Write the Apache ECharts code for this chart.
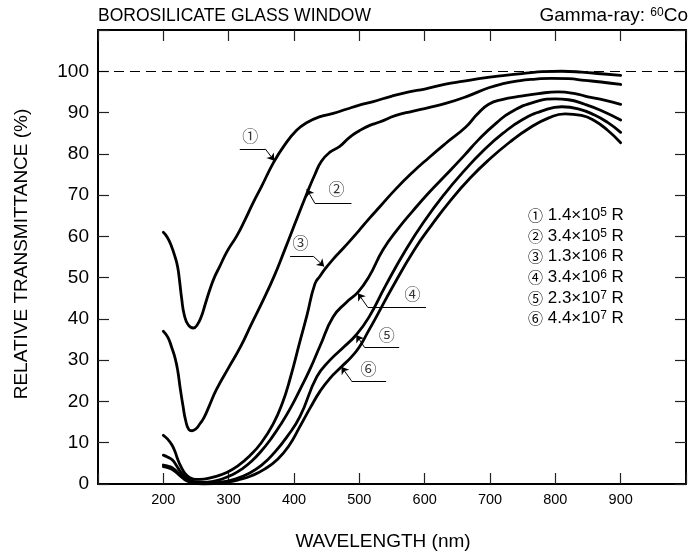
<!DOCTYPE html>
<html><head><meta charset="utf-8">
<script src="https://cdn.jsdelivr.net/npm/echarts@6/dist/echarts.min.js"></script>
<style>html,body{margin:0;padding:0;background:#fff}#c{width:689px;height:558px}</style>
</head><body><div id="c"></div>
<script>
// ---------- data ----------
const xLabelTicks = [200, 300, 400, 500, 600, 700, 800, 900];
const yLabelTicks = [0, 10, 20, 30, 40, 50, 60, 70, 80, 90, 100];

const curve1 = [[200,61],[206,59.8],[212,57.8],[218,55],[222,52.5],[225,49],[228,45],[232,41],[238,38.6],[246,37.8],[252,38.6],[258,40.5],[264,43.5],[271,47],[278,50],[286,52.6],[298,56.5],[312,60],[325,64],[337,68],[350,72],[369,78],[385,82],[404,85.7],[420,87.6],[440,89],[460,89.8],[480,90.8],[500,91.8],[520,92.6],[550,94],[576,95],[600,95.7],[632,96.9],[660,97.6],[683,98.2],[723,99],[759,99.6],[780,99.9],[810,100],[840,99.8],[870,99.4],[900,99]];
const curve2 = [[200,37],[207,35.5],[213,33],[218,30.5],[222,27.5],[226,23],[230,19],[234,15.5],[239,13.2],[244,12.9],[250,13.4],[256,14.6],[262,16],[270,18.8],[281,22.8],[300,28.2],[318,33.2],[335,38.8],[353,44.6],[370,50.5],[384,56],[400,62.5],[420,70.5],[432,75],[442,78.2],[455,80.4],[470,81.8],[485,84],[500,85.6],[516,86.9],[531,87.7],[556,89.3],[581,90.3],[606,91.2],[632,92.2],[663,93.8],[698,96],[720,97],[744,97.7],[770,98.1],[794,98.3],[820,98.2],[845,97.8],[870,97.4],[900,96.8]];
const curve3 = [[200,11.8],[207,10.8],[213,9.5],[218,7.8],[222,6],[227,4.2],[233,2.6],[240,1.6],[250,1.1],[262,1.2],[275,1.6],[297,2.8],[315,4.5],[332,6.8],[350,10],[368,14.5],[382,19.5],[394,25.5],[409,34.5],[420,41],[432,48.5],[440,50.4],[447,52],[460,54.5],[470,56.2],[485,58.8],[500,61.5],[515,64.3],[531,67.1],[556,71.5],[582,75.6],[606,79],[632,82.5],[663,86.5],[680,89.5],[698,92],[720,93.2],[744,93.9],[774,94.6],[804,95],[830,94.6],[850,93.8],[875,93],[900,92]];
const curve4 = [[200,7],[207,6.5],[214,5.8],[220,4.5],[226,3],[233,1.8],[240,1],[250,0.5],[262,0.4],[275,0.6],[290,1.2],[305,2.2],[320,3.6],[335,5.5],[350,8],[365,11],[380,14.5],[395,18.5],[409,22.8],[425,28],[440,33.5],[460,40.5],[480,44],[498,46.5],[515,50.3],[536,56.7],[560,62],[581,66],[606,70.5],[632,74.8],[660,79.5],[683,83.5],[710,87.5],[733,90.2],[769,92.6],[800,93.3],[820,93.1],[845,92],[870,90.5],[900,88.2]];
const curve5 = [[200,4.6],[208,4.3],[215,3.8],[222,2.8],[230,1.6],[238,0.8],[248,0.3],[260,0.1],[275,0.2],[290,0.5],[310,1.2],[330,2.5],[350,4.5],[370,7.6],[390,11.6],[409,16.3],[435,26],[455,30],[475,33],[495,36.1],[515,40.5],[540,48],[571,56.7],[600,63.8],[630,70.2],[660,75.8],[690,80.8],[720,85],[750,88.3],[780,90.4],[810,91.4],[835,90.9],[860,89.4],[880,87.6],[900,85.2]];
const curve6 = [[200,4.2],[208,3.9],[215,3.4],[222,2.5],[230,1.4],[238,0.6],[248,0.2],[262,0],[278,0.1],[295,0.4],[315,1],[335,2],[355,3.6],[375,6],[392,9.2],[409,13.9],[425,18.5],[440,22.5],[455,25.6],[472.6,28.4],[488,30.8],[500,33.2],[513,36.8],[526,40.5],[550,47.5],[584,56.7],[610,62.6],[640,68.8],[670,74.2],[700,78.8],[730,82.8],[760,86.2],[790,88.7],[815,89.7],[840,89.3],[860,88],[880,85.7],[900,82.7]];

const marks = ['①', '②', '③', '④', '⑤', '⑥'];
const doseMantissa = ['1.4', '3.4', '1.3', '3.4', '2.3', '4.4'];
const doseExponent = ['5', '5', '6', '6', '7', '7'];

// annotation anchors in data units: label position, leader line (x from, x to = bend, y), arrow tip
const noteLabel = [[333, 84.3], [465, 71.6], [410, 58.4], [581.5, 46.1], [542, 36.2], [514, 27.8]];
const noteLeader = [[317, 356, 81.2], [488, 432, 68.0], [394, 429.5, 55.2], [602, 513, 42.8], [561, 508, 33.1], [541, 488, 25.0]];
const noteTip = [[369.8, 78.3], [419.5, 71.4], [446.2, 52.7], [497.9, 46.2], [495.4, 36.1], [472.6, 28.4]];

const refLevel = 100;

// ---------- chart ----------
const FONT = "'Liberation Sans', Arial, Helvetica, sans-serif";
const CIRC = "'Noto Sans CJK JP', 'DejaVu Sans', sans-serif";
const chart = echarts.init(document.getElementById('c'), null, {renderer: 'canvas'});

const curves = [curve1, curve2, curve3, curve4, curve5, curve6];
const series = curves.map((d, i) => ({
  type: 'line', name: marks[i], data: d, showSymbol: false, symbol: 'none',
  smooth: 0.5, silent: true,
  lineStyle: {color: '#000', width: 2.8, cap: 'round', join: 'round'},
  markLine: i === 0 ? {
    silent: true, symbol: 'none', label: {show: false},
    lineStyle: {color: '#000', width: 1.2, type: [10, 6]},
    data: [{yAxis: refLevel}]
  } : undefined,
  z: 5
}));

const leaderCoords = [];
const arrowCoords = [];
noteLeader.forEach((l, i) => {
  leaderCoords.push({coords: [[l[0], l[2]], [l[1], l[2]]]});
  arrowCoords.push({coords: [[l[1], l[2]], noteTip[i]]});
});
series.push({
  type: 'lines', coordinateSystem: 'cartesian2d', silent: true,
  symbol: 'none', lineStyle: {color: '#000', width: 1, opacity: 1},
  data: leaderCoords, z: 6
});
series.push({
  type: 'lines', coordinateSystem: 'cartesian2d', silent: true,
  symbol: ['none', 'arrow'], symbolSize: [0, 7],
  lineStyle: {color: '#000', width: 1, opacity: 1},
  data: arrowCoords, z: 6
});
series.push({
  type: 'scatter', silent: true, symbolSize: 1,
  itemStyle: {color: 'rgba(0,0,0,0)'},
  data: noteLabel.map((p, i) => ({value: p, name: marks[i]})),
  label: {show: true, position: 'inside', formatter: '{b}', color: '#000',
          fontFamily: CIRC, fontSize: 16},
  z: 7
});

const legendRows = marks.map((m, i) => ({
  type: 'text', x: 0, y: i * 20.6,
  style: {
    text: '{c|' + m + '} ' + doseMantissa[i] + '×10{s|' + doseExponent[i] + '} R',
    font: '17px ' + FONT, fill: '#000', align: 'left', verticalAlign: 'middle',
    rich: {
      c: {fontFamily: CIRC, fontSize: 15, fill: '#000'},
      s: {fontSize: 12, verticalAlign: 'top', lineHeight: 11, fill: '#000', fontFamily: FONT}
    }
  }
}));

chart.setOption({
  animation: false,
  backgroundColor: '#fff',
  textStyle: {fontFamily: FONT, color: '#000'},
  grid: {left: 98, right: 2, top: 30, bottom: 74, containLabel: false},
  xAxis: [{
    type: 'value', min: 100, max: 1000, interval: 100, position: 'bottom',
    axisLine: {show: true, onZero: false, lineStyle: {color: '#000', width: 2}},
    axisTick: {show: true, inside: true, length: 11, lineStyle: {color: '#222', width: 1.2}},
    axisLabel: {color: '#000', fontSize: 14.5, margin: 8, fontFamily: FONT,
      formatter: v => xLabelTicks.indexOf(v) >= 0 ? String(v) : ''},
    splitLine: {show: false}
  }, {
    type: 'value', min: 100, max: 1000, interval: 100, position: 'top',
    axisLine: {show: true, onZero: false, lineStyle: {color: '#000', width: 2}},
    axisTick: {show: true, inside: true, length: 11, lineStyle: {color: '#222', width: 1.2}},
    axisLabel: {show: false}, splitLine: {show: false}
  }],
  yAxis: [{
    type: 'value', min: 0, max: 110, interval: 10, position: 'left',
    axisLine: {show: true, onZero: false, lineStyle: {color: '#000', width: 2}},
    axisTick: {show: true, inside: true, length: 11, lineStyle: {color: '#222', width: 1.2}},
    axisLabel: {color: '#000', fontSize: 19, margin: 9, fontFamily: FONT,
      formatter: v => yLabelTicks.indexOf(v) >= 0 ? String(v) : ''},
    splitLine: {show: false}
  }, {
    type: 'value', min: 0, max: 110, interval: 10, position: 'right',
    axisLine: {show: true, onZero: false, lineStyle: {color: '#000', width: 2}},
    axisTick: {show: true, inside: true, length: 11, lineStyle: {color: '#222', width: 1.2}},
    axisLabel: {show: false}, splitLine: {show: false}
  }],
  graphic: [
    {type: 'text', x: 98, y: 16, style: {text: 'BOROSILICATE GLASS WINDOW', font: '17.5px ' + FONT, fill: '#000', align: 'left', verticalAlign: 'middle'}},
    {type: 'text', x: 688, y: 16, style: {
      text: 'Gamma-ray: {s|60}Co', font: '19px ' + FONT, fill: '#000', align: 'right', verticalAlign: 'middle',
      rich: {s: {fontSize: 12, verticalAlign: 'top', lineHeight: 12, fill: '#000', fontFamily: FONT}}
    }},
    {type: 'text', x: 383, y: 542, style: {text: 'WAVELENGTH (nm)', font: '19px ' + FONT, fill: '#000', align: 'center', verticalAlign: 'middle'}},
    {type: 'text', x: 21.5, y: 254, rotation: Math.PI / 2, style: {text: 'RELATIVE TRANSMITTANCE (%)', font: '19px ' + FONT, fill: '#000', align: 'center', verticalAlign: 'middle'}},
    {type: 'group', x: 528, y: 215.5, children: legendRows}
  ],
  series: series
});
</script>
</body></html>
